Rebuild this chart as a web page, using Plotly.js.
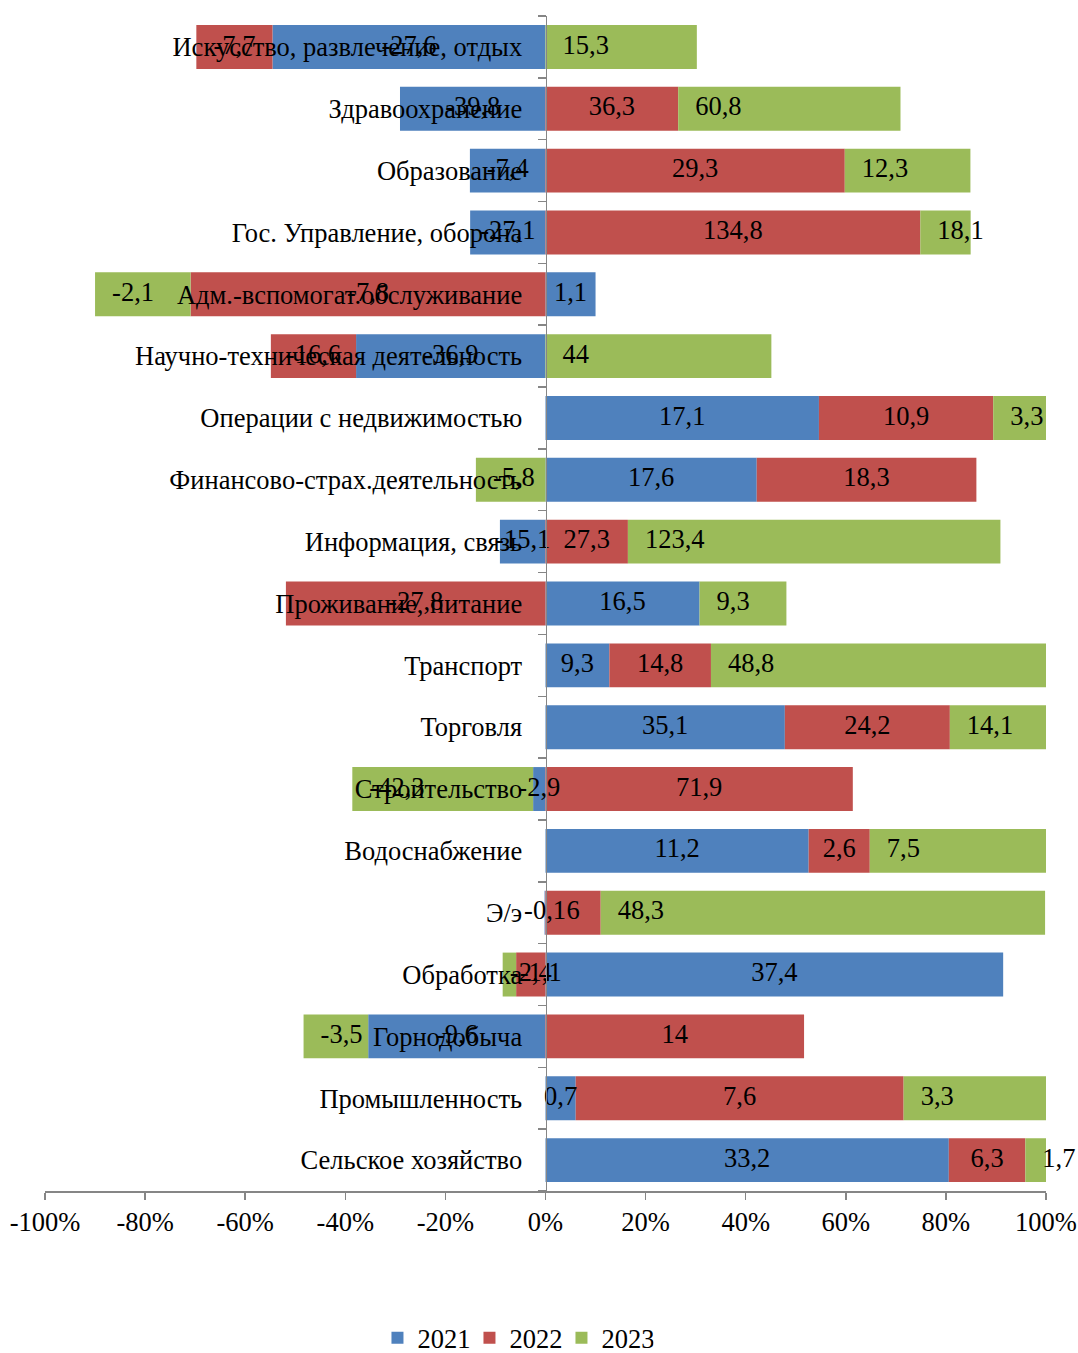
<!DOCTYPE html>
<html>
<head>
<meta charset="utf-8">
<script src="https://cdn.plot.ly/plotly-3.0.1.min.js"></script>
<style>html,body{margin:0;padding:0;background:#fff;}#chart{width:1078px;height:1353px;}</style>
</head>
<body>
<div id="chart"></div>
<script>
// Categories, bottom to top
const categories = [
  "Сельское хозяйство",
  "Промышленность",
  "Горнодобыча",
  "Обработка",
  "Э/э",
  "Водоснабжение",
  "Строительство",
  "Торговля",
  "Транспорт",
  "Проживание, питание",
  "Информация, связь",
  "Финансово-страх.деятельность",
  "Операции с недвижимостью",
  "Научно-техническая деятельность",
  "Адм.-вспомогат.обслуживание",
  "Гос. Управление, оборона",
  "Образование",
  "Здравоохранение",
  "Искусство, развлечение, отдых"
];
const v2021 = [33.2, 0.7, -9.6, 37.4, -0.1, 11.2, -2.9, 35.1, 9.3, 16.5, -15.1, 17.6, 17.1, -36.9, 1.1, -27.1, -7.4, -39.8, -27.6];
const v2022 = [6.3, 7.6, 14, -2.4, 6, 2.6, 71.9, 24.2, 14.8, -27.8, 27.3, 18.3, 10.9, -16.6, -7.8, 134.8, 29.3, 36.3, -7.7];
const v2023 = [1.7, 3.3, -3.5, -1.1, 48.3, 7.5, -42.3, 14.1, 48.8, 9.3, 123.4, -5.8, 3.3, 44, -2.1, 18.1, 12.3, 60.8, 15.3];
const seriesNames = ["2021", "2022", "2023"];
const seriesColors = ["#4F81BD", "#C0504D", "#9BBB59"];
const tickVals = [-100, -80, -60, -40, -20, 0, 20, 40, 60, 80, 100];
const tickText = ["-100%", "-80%", "-60%", "-40%", "-20%", "0%", "20%", "40%", "60%", "80%", "100%"];

const all = [v2021, v2022, v2023];
const sums = categories.map((c, i) => all.reduce((s, arr) => s + Math.abs(arr[i]), 0));
const pct = all.map(arr => arr.map((v, i) => v / sums[i] * 100));
const fmt = v => String(v).replace('.', ',');
const FONT = "Liberation Serif, Times New Roman, serif";
const FS = 26.5;
const LABEL_PAD = 3.4; // left padding (axis units) for last-series labels

// stacking (relative mode): same-sign values stack outward in trace order
const posBase = categories.map(() => 0), negBase = categories.map(() => 0);
const centers = [], lefts = [];
pct.forEach(arr => {
  const c = [], l = [];
  arr.forEach((v, i) => {
    if (v >= 0) { c.push(posBase[i] + v / 2); l.push(posBase[i]); posBase[i] += v; }
    else { c.push(negBase[i] + v / 2); l.push(negBase[i] + v); negBase[i] += v; }
  });
  centers.push(c); lefts.push(l);
});

const traces = pct.map((arr, k) => ({
  type: 'bar',
  orientation: 'h',
  name: seriesNames[k],
  y: categories,
  x: arr,
  marker: {color: seriesColors[k], line: {width: 0}},
  hoverinfo: 'skip'
}));

// data labels drawn above all bars
all.forEach((arr, k) => {
  const last = k === all.length - 1;
  traces.push({
    type: 'scatter',
    mode: 'text',
    showlegend: false,
    y: categories,
    x: last ? lefts[k].map(l => l + LABEL_PAD) : centers[k],
    text: arr.map(fmt),
    textposition: last ? 'middle right' : 'middle center',
    textfont: {family: FONT, size: FS, color: '#000'},
    cliponaxis: false,
    hoverinfo: 'skip'
  });
});

const layout = {
  width: 1078, height: 1353,
  margin: {l: 45, r: 32, t: 16, b: 162},
  paper_bgcolor: '#fff', plot_bgcolor: '#fff',
  barmode: 'relative',
  bargap: 0.29,
  showlegend: true,
  font: {family: FONT, size: FS, color: '#000'},
  xaxis: {
    range: [-100, 100],
    tickvals: tickVals, ticktext: tickText,
    showgrid: false, zeroline: false,
    showline: true, linecolor: '#868686', linewidth: 1.5,
    ticks: 'outside', ticklen: 7, tickcolor: '#868686', tickwidth: 1.5,
    tickfont: {family: FONT, size: FS, color: '#000'},
    fixedrange: true
  },
  yaxis: {
    type: 'category',
    range: [-0.5, categories.length - 0.5],
    anchor: 'free', position: 0.5,
    showgrid: false, zeroline: false,
    showline: true, linecolor: '#868686', linewidth: 1.5,
    ticks: 'outside', ticklen: 8, tickcolor: '#868686', tickwidth: 1.5,
    tickson: 'boundaries',
    ticklabelstandoff: 18,
    tickfont: {family: FONT, size: FS, color: '#000'},
    fixedrange: true
  },
  legend: {
    orientation: 'h', traceorder: 'normal',
    x: 0.47, xanchor: 'center',
    yref: 'container', y: 0.011, yanchor: 'middle',
    itemwidth: 30,
    entrywidth: 47,
    font: {family: FONT, size: FS, color: '#000'}
  }
};

Plotly.newPlot('chart', traces, layout, {displayModeBar: false, staticPlot: true});
</script>
</body>
</html>
